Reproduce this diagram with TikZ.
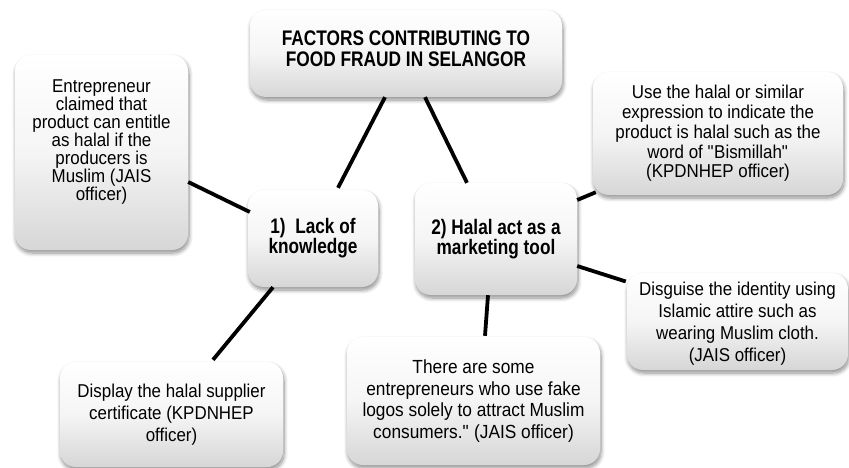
\documentclass[tikz,border=0pt]{standalone}
\usepackage{fontspec}
\setmainfont{Liberation Sans}[FakeStretch=0.91, BoldFeatures={FakeStretch=0.82}]
\usetikzlibrary{shadows.blur,calc}
\begin{document}
\begin{tikzpicture}[x=1pt,y=-1pt,
  box/.style={rounded corners=16pt, top color=white, bottom color=black!16,
    middle color=white!96!black, draw=none, align=center, inner sep=0pt,
    blur shadow={shadow xshift=1pt, shadow yshift=-3pt, shadow blur steps=8, shadow opacity=45, shadow blur radius=4pt}},
  link/.style={line width=3.8pt, black}]
\useasboundingbox (0,0) rectangle (849,468);
\node[box, minimum width=312pt, minimum height=87pt, font=\fontsize{21.1}{21.7}\selectfont\bfseries] (top) at (406,53.5)
  {FACTORS CONTRIBUTING TO\\FOOD FRAUD IN SELANGOR\\[-12pt]\mbox{}};
\node[box, minimum width=173pt, minimum height=195pt, font=\fontsize{18.6}{18}\selectfont] (left) at (101.5,152.5)
  {Entrepreneur\\claimed that\\product can entitle\\as halal if the\\producers is\\Muslim (JAIS\\officer)\\[6pt]};
\node[box, minimum width=250pt, minimum height=123pt, font=\fontsize{18.6}{19.7}\selectfont] (rtop) at (718,133.5)
  {Use the halal or similar\\expression to indicate the\\product is halal such as the\\word of \textquotedbl Bismillah\textquotedbl\\(KPDNHEP officer)};
\node[box, minimum width=130pt, minimum height=97pt, font=\fontsize{21}{20}\selectfont\bfseries] (lack) at (313,238.5)
  {1)\ \ Lack of\\knowledge};
\node[box, minimum width=162pt, minimum height=112pt, font=\fontsize{21}{20}\selectfont\bfseries] (halal) at (496,239)
  {2) Halal act as a\\marketing tool};
\node[box, minimum width=221pt, minimum height=97pt, font=\fontsize{18.6}{22}\selectfont] (disg) at (737.5,321.5)
  {\mbox{}\\[-5pt]Disguise the identity using\\Islamic attire such as\\wearing Muslim cloth.\\(JAIS officer)};
\node[box, minimum width=223pt, minimum height=105pt, font=\fontsize{18.6}{21.7}\selectfont] (disp) at (171.5,414.5)
  {Display the halal supplier\\certificate (KPDNHEP\\officer)};
\node[box, minimum width=253pt, minimum height=128pt, font=\fontsize{19}{21.7}\selectfont] (there) at (473.5,401)
  {There are some\\entrepreneurs who use fake\\logos solely to attract Muslim\\consumers.\textquotedbl\ (JAIS officer)};
\draw[link] ([xshift=-21pt]top.south) -- ([xshift=25pt,yshift=2pt]lack.north);
\draw[link] ([xshift=19pt]top.south) -- ([xshift=-29pt]halal.north);
\draw[link] ([yshift=-29.5pt]left.east) -- ([xshift=2pt,yshift=26.5pt]lack.west);
\draw[link] ([xshift=-40pt]lack.south) -- ([xshift=41.5pt,yshift=2pt]disp.north);
\draw[link] ([yshift=39pt]halal.east) -- ([shift={(3pt,3pt)}]rtop.south west);
\draw[link] ([yshift=-27pt]halal.east) -- ([xshift=-1pt,yshift=40pt]disg.west);
\draw[link] ([xshift=-8pt]halal.south) -- ([xshift=11.5pt,yshift=1pt]there.north);
\end{tikzpicture}
\end{document}
